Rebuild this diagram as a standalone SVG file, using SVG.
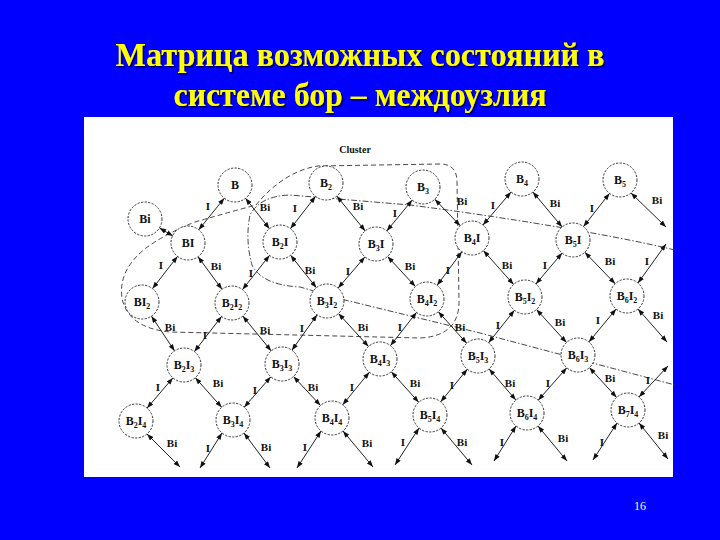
<svg xmlns="http://www.w3.org/2000/svg" width="720" height="540" viewBox="0 0 720 540">
<defs>
<style>
.title{font-family:"Liberation Serif","Times New Roman",serif;font-weight:bold;font-size:33px;fill:#FFFF00;text-anchor:middle}
.node circle{fill:#fff;stroke:#333;stroke-width:1;stroke-dasharray:2.2 1.4}
.node text{font-family:"Liberation Serif","Times New Roman",serif;font-weight:bold;font-size:12px;fill:#111;text-anchor:middle}
.sub{font-size:8px}
.conn line{stroke:#222;stroke-width:1;marker-start:url(#ah);marker-end:url(#ah)}
.lbl text{font-family:"Liberation Serif","Times New Roman",serif;font-weight:bold;font-size:11px;fill:#111;text-anchor:middle}
.dash{fill:none;stroke:#333;stroke-width:0.9;stroke-dasharray:5 3}
.dashdot{fill:none;stroke:#333;stroke-width:0.9;stroke-dasharray:6 2 1.5 2}
</style>
<marker id="ah" viewBox="0 0 8 6" refX="8" refY="3" markerWidth="7" markerHeight="5" orient="auto-start-reverse" markerUnits="userSpaceOnUse"><path d="M0,0 L8,3 L0,6 z" fill="#111"/></marker>
<filter id="sh" x="-5%" y="-20%" width="110%" height="140%"><feDropShadow dx="1.5" dy="1.5" stdDeviation="0.3" flood-color="#000050"/></filter>
</defs>
<rect x="0" y="0" width="720" height="540" fill="#0000FE"/>
<rect x="84" y="117" width="589" height="360" fill="#ffffff"/>
<g id="title" filter="url(#sh)">
<text class="title" x="360" y="66" textLength="489" lengthAdjust="spacingAndGlyphs">Матрица возможных состояний в</text>
<text class="title" x="360" y="106" textLength="373" lengthAdjust="spacingAndGlyphs">системе бор – междоузлия</text>
</g>
<g id="boundaries">
<path class="dash" d="M256,205 C268,190 290,170 318,166 L440,164 Q457,164 457,182 L459,300 Q460,336 420,338 L170,332 Q128,328 122,298 Q118,270 146,248 Q165,234 195,222 Q230,212 256,205 Z"/>
<path class="dashdot" d="M675,250 C600,232 480,214 410,205 L290,195 Q260,196 250,215 Q245,240 252,265 Q262,285 300,287 L345,300 L480,333 L675,385"/>
</g>
<g id="connectors" class="conn">
<line x1="159.5" y1="228" x2="173" y2="236"/>
<line x1="224.3" y1="198.2" x2="198.7" y2="229.8"/>
<line x1="245.5" y1="198.3" x2="269.5" y2="228.7"/>
<line x1="315.5" y1="196.4" x2="290.5" y2="228.6"/>
<line x1="336.8" y1="196.1" x2="365.2" y2="230.9"/>
<line x1="412.2" y1="200.1" x2="386.8" y2="230.9"/>
<line x1="434.8" y1="199.3" x2="460.2" y2="225.7"/>
<line x1="511" y1="192" x2="483" y2="225"/>
<line x1="532.9" y1="192" x2="562.1" y2="227"/>
<line x1="609.5" y1="193.4" x2="583.5" y2="226.6"/>
<line x1="631" y1="193" x2="666" y2="227"/>
<line x1="177.5" y1="256.4" x2="152.5" y2="288.6"/>
<line x1="198" y1="256.7" x2="222" y2="289.3"/>
<line x1="269.5" y1="255.4" x2="242.5" y2="289.6"/>
<line x1="290.6" y1="255.3" x2="316.4" y2="287.7"/>
<line x1="364.9" y1="256.9" x2="338.1" y2="288.1"/>
<line x1="387.6" y1="256.5" x2="415.4" y2="286.5"/>
<line x1="461.9" y1="251.7" x2="437.1" y2="285.3"/>
<line x1="483.4" y1="250.6" x2="513.6" y2="284.4"/>
<line x1="562.1" y1="253" x2="535.9" y2="284"/>
<line x1="584.8" y1="252.2" x2="615.2" y2="283.8"/>
<line x1="666" y1="244" x2="638" y2="283"/>
<line x1="151.4" y1="316.1" x2="174.6" y2="350.9"/>
<line x1="221.6" y1="316.4" x2="194.4" y2="351.6"/>
<line x1="242.8" y1="316.1" x2="271.2" y2="350.9"/>
<line x1="317.1" y1="314.8" x2="291.9" y2="350.2"/>
<line x1="338.5" y1="313.5" x2="368.5" y2="346.5"/>
<line x1="416.5" y1="312.4" x2="390.5" y2="345.6"/>
<line x1="438.3" y1="311.7" x2="466.7" y2="343.3"/>
<line x1="514.4" y1="310.3" x2="488.6" y2="342.7"/>
<line x1="536.5" y1="309.5" x2="566.5" y2="342.5"/>
<line x1="616.1" y1="309.1" x2="588.9" y2="341.9"/>
<line x1="638" y1="309" x2="667" y2="342"/>
<line x1="172.9" y1="377.9" x2="147.1" y2="408.1"/>
<line x1="195.3" y1="377.7" x2="221.7" y2="407.3"/>
<line x1="270.8" y1="376.8" x2="244.2" y2="407.2"/>
<line x1="293.5" y1="376.5" x2="320.5" y2="405.5"/>
<line x1="369.3" y1="372.2" x2="342.7" y2="404.8"/>
<line x1="391.3" y1="371.7" x2="418.7" y2="402.3"/>
<line x1="467.3" y1="369.2" x2="440.7" y2="401.8"/>
<line x1="489.1" y1="368.9" x2="515.9" y2="400.1"/>
<line x1="566.8" y1="367.8" x2="538.2" y2="400.2"/>
<line x1="589.4" y1="367.6" x2="616.6" y2="397.4"/>
<line x1="668" y1="366" x2="639" y2="397"/>
<line x1="147" y1="434" x2="180" y2="467"/>
<line x1="222" y1="433" x2="200" y2="468"/>
<line x1="244" y1="433" x2="270" y2="468"/>
<line x1="321" y1="431" x2="297" y2="468"/>
<line x1="343" y1="431" x2="373" y2="467"/>
<line x1="419" y1="428" x2="395" y2="465"/>
<line x1="441" y1="428" x2="472" y2="465"/>
<line x1="516" y1="426" x2="494" y2="461"/>
<line x1="538" y1="426" x2="567" y2="461"/>
<line x1="617" y1="423" x2="593" y2="460"/>
<line x1="639" y1="423" x2="668" y2="459"/>
</g>
<g id="n-B" class="node"><circle cx="235" cy="185" r="17"/><text x="235" y="189">B</text></g>
<g id="n-Bi" class="node"><circle cx="145" cy="219" r="17"/><text x="145" y="223">Bi</text></g>
<g id="n-B2" class="node"><circle cx="326" cy="183" r="17"/><text x="326" y="187">B<tspan class="sub" dy="3">2</tspan></text></g>
<g id="n-B3" class="node"><circle cx="423" cy="187" r="17"/><text x="423" y="191">B<tspan class="sub" dy="3">3</tspan></text></g>
<g id="n-B4" class="node"><circle cx="522" cy="179" r="17"/><text x="522" y="183">B<tspan class="sub" dy="3">4</tspan></text></g>
<g id="n-B5" class="node"><circle cx="620" cy="180" r="17"/><text x="620" y="184">B<tspan class="sub" dy="3">5</tspan></text></g>
<g id="n-BI" class="node"><circle cx="188" cy="243" r="17"/><text x="188" y="247">BI</text></g>
<g id="n-B2I" class="node"><circle cx="280" cy="242" r="17"/><text x="280" y="246">B<tspan class="sub" dy="3">2</tspan><tspan dy="-3">I</tspan></text></g>
<g id="n-B3I" class="node"><circle cx="376" cy="244" r="17"/><text x="376" y="248">B<tspan class="sub" dy="3">3</tspan><tspan dy="-3">I</tspan></text></g>
<g id="n-B4I" class="node"><circle cx="472" cy="238" r="17"/><text x="472" y="242">B<tspan class="sub" dy="3">4</tspan><tspan dy="-3">I</tspan></text></g>
<g id="n-B5I" class="node"><circle cx="573" cy="240" r="17"/><text x="573" y="244">B<tspan class="sub" dy="3">5</tspan><tspan dy="-3">I</tspan></text></g>
<g id="n-BI2" class="node"><circle cx="142" cy="302" r="17"/><text x="142" y="306">BI<tspan class="sub" dy="3">2</tspan></text></g>
<g id="n-B2I2" class="node"><circle cx="232" cy="303" r="17"/><text x="232" y="307">B<tspan class="sub" dy="3">2</tspan><tspan dy="-3">I</tspan><tspan class="sub" dy="3">2</tspan></text></g>
<g id="n-B3I2" class="node"><circle cx="327" cy="301" r="17"/><text x="327" y="305">B<tspan class="sub" dy="3">3</tspan><tspan dy="-3">I</tspan><tspan class="sub" dy="3">2</tspan></text></g>
<g id="n-B4I2" class="node"><circle cx="427" cy="299" r="17"/><text x="427" y="303">B<tspan class="sub" dy="3">4</tspan><tspan dy="-3">I</tspan><tspan class="sub" dy="3">2</tspan></text></g>
<g id="n-B5I2" class="node"><circle cx="525" cy="297" r="17"/><text x="525" y="301">B<tspan class="sub" dy="3">5</tspan><tspan dy="-3">I</tspan><tspan class="sub" dy="3">2</tspan></text></g>
<g id="n-B6I2" class="node"><circle cx="627" cy="296" r="17"/><text x="627" y="300">B<tspan class="sub" dy="3">6</tspan><tspan dy="-3">I</tspan><tspan class="sub" dy="3">2</tspan></text></g>
<g id="n-B2I3" class="node"><circle cx="184" cy="365" r="17"/><text x="184" y="369">B<tspan class="sub" dy="3">2</tspan><tspan dy="-3">I</tspan><tspan class="sub" dy="3">3</tspan></text></g>
<g id="n-B3I3" class="node"><circle cx="282" cy="364" r="17"/><text x="282" y="368">B<tspan class="sub" dy="3">3</tspan><tspan dy="-3">I</tspan><tspan class="sub" dy="3">3</tspan></text></g>
<g id="n-B4I3" class="node"><circle cx="380" cy="359" r="17"/><text x="380" y="363">B<tspan class="sub" dy="3">4</tspan><tspan dy="-3">I</tspan><tspan class="sub" dy="3">3</tspan></text></g>
<g id="n-B5I3" class="node"><circle cx="478" cy="356" r="17"/><text x="478" y="360">B<tspan class="sub" dy="3">5</tspan><tspan dy="-3">I</tspan><tspan class="sub" dy="3">3</tspan></text></g>
<g id="n-B6I3" class="node"><circle cx="578" cy="355" r="17"/><text x="578" y="359">B<tspan class="sub" dy="3">6</tspan><tspan dy="-3">I</tspan><tspan class="sub" dy="3">3</tspan></text></g>
<g id="n-B2I4" class="node"><circle cx="136" cy="421" r="17"/><text x="136" y="425">B<tspan class="sub" dy="3">2</tspan><tspan dy="-3">I</tspan><tspan class="sub" dy="3">4</tspan></text></g>
<g id="n-B3I4" class="node"><circle cx="233" cy="420" r="17"/><text x="233" y="424">B<tspan class="sub" dy="3">3</tspan><tspan dy="-3">I</tspan><tspan class="sub" dy="3">4</tspan></text></g>
<g id="n-B4I4" class="node"><circle cx="332" cy="418" r="17"/><text x="332" y="422">B<tspan class="sub" dy="3">4</tspan><tspan dy="-3">I</tspan><tspan class="sub" dy="3">4</tspan></text></g>
<g id="n-B5I4" class="node"><circle cx="430" cy="415" r="17"/><text x="430" y="419">B<tspan class="sub" dy="3">5</tspan><tspan dy="-3">I</tspan><tspan class="sub" dy="3">4</tspan></text></g>
<g id="n-B6I4" class="node"><circle cx="527" cy="413" r="17"/><text x="527" y="417">B<tspan class="sub" dy="3">6</tspan><tspan dy="-3">I</tspan><tspan class="sub" dy="3">4</tspan></text></g>
<g id="n-B7I4" class="node"><circle cx="628" cy="410" r="17"/><text x="628" y="414">B<tspan class="sub" dy="3">7</tspan><tspan dy="-3">I</tspan><tspan class="sub" dy="3">4</tspan></text></g>
<g id="edge-labels" class="lbl">
<text x="208" y="210">I</text><text x="265" y="211">Bi</text><text x="295" y="212">I</text><text x="358" y="210">Bi</text><text x="395" y="217">I</text><text x="462" y="205">Bi</text><text x="493" y="209">I</text><text x="555" y="207">Bi</text><text x="592" y="212">I</text><text x="657" y="204">Bi</text>
<text x="161" y="269">I</text><text x="216" y="270">Bi</text><text x="251" y="277">I</text><text x="310" y="274">Bi</text><text x="348" y="275">I</text><text x="410" y="270">Bi</text><text x="448" y="274">I</text><text x="507" y="269">Bi</text><text x="545" y="269">I</text><text x="610" y="265">Bi</text><text x="647" y="265">I</text>
<text x="170" y="331">Bi</text><text x="205" y="339">I</text><text x="265" y="334">Bi</text><text x="302" y="332">I</text><text x="363" y="331">Bi</text><text x="400" y="331">I</text><text x="460" y="331">Bi</text><text x="498" y="329">I</text><text x="560" y="326">Bi</text><text x="598" y="324">I</text><text x="658" y="319">Bi</text>
<text x="158" y="391">I</text><text x="218" y="387">Bi</text><text x="255" y="394">I</text><text x="313" y="391">Bi</text><text x="352" y="391">I</text><text x="415" y="387">Bi</text><text x="452" y="389">I</text><text x="510" y="387">Bi</text><text x="548" y="387">I</text><text x="610" y="382">Bi</text><text x="648" y="384">I</text>
<text x="172" y="447">Bi</text><text x="208" y="452">I</text><text x="266" y="451">Bi</text><text x="305" y="451">I</text><text x="367" y="447">Bi</text><text x="403" y="446">I</text><text x="462" y="446">Bi</text><text x="502" y="446">I</text><text x="563" y="442">Bi</text><text x="602" y="446">I</text><text x="663" y="439">Bi</text>
</g>
<text x="355" y="153" font-family="Liberation Serif, Times New Roman, serif" font-weight="bold" font-size="10" fill="#111" text-anchor="middle">Cluster</text>
<text x="640" y="510" font-family="Liberation Serif, Times New Roman, serif" font-size="12" fill="#ffffff" text-anchor="middle">16</text>
</svg>
